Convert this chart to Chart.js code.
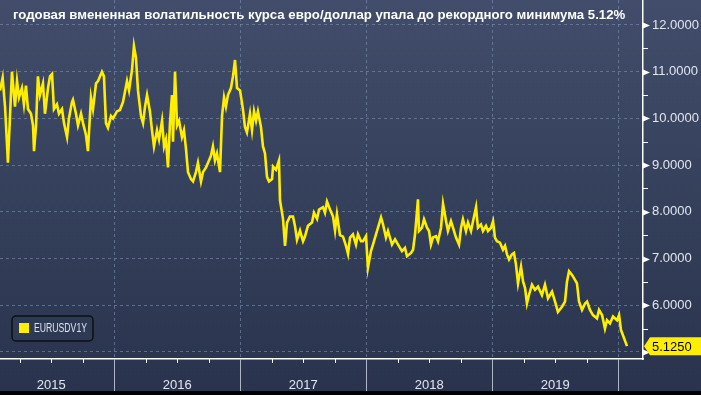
<!DOCTYPE html>
<html>
<head>
<meta charset="utf-8">
<script src="https://cdn.jsdelivr.net/npm/chart.js@4.4.1/dist/chart.umd.min.js"></script>
<style>
  html, body { margin: 0; padding: 0; background: #2a344e; }
  #wrap { width: 701px; height: 395px; }
</style>
</head>
<body>
<div id="wrap"><canvas id="myChart" width="701" height="395"></canvas></div>
<script>
// title + series name
var titleText = 'годовая вмененная волатильность курса евро/доллар упала до рекордного минимума 5.12%';
var seriesName = 'EURUSDV1Y';

// x = decimal year
var dates = [
    2015.093, 2015.114, 2015.133, 2015.156, 2015.188, 2015.212, 2015.228, 2015.244, 2015.267, 2015.283,
    2015.299, 2015.315, 2015.339, 2015.355, 2015.363, 2015.379, 2015.394, 2015.410, 2015.434, 2015.450,
    2015.474, 2015.490, 2015.506, 2015.521, 2015.545, 2015.561, 2015.585, 2015.601, 2015.625, 2015.640,
    2015.664, 2015.672, 2015.696, 2015.712, 2015.736, 2015.752, 2015.775, 2015.791, 2015.815, 2015.831,
    2015.855, 2015.871, 2015.902, 2015.918, 2015.934, 2015.950, 2015.974, 2015.990, 2016.021, 2016.045,
    2016.069, 2016.101, 2016.117, 2016.141, 2016.156, 2016.172, 2016.188, 2016.212, 2016.228, 2016.244,
    2016.260, 2016.283, 2016.299, 2016.315, 2016.339, 2016.355, 2016.379, 2016.395, 2016.410, 2016.426,
    2016.442, 2016.458, 2016.466, 2016.482, 2016.498, 2016.514, 2016.537, 2016.553, 2016.569, 2016.585,
    2016.609, 2016.625, 2016.648, 2016.664, 2016.688, 2016.704, 2016.728, 2016.744, 2016.767, 2016.783,
    2016.799, 2016.815, 2016.839, 2016.855, 2016.871, 2016.886, 2016.902, 2016.926, 2016.942, 2016.958,
    2016.974, 2016.998, 2017.021, 2017.037, 2017.053, 2017.077, 2017.093, 2017.109, 2017.125, 2017.140,
    2017.164, 2017.180, 2017.196, 2017.212, 2017.228, 2017.252, 2017.260, 2017.283, 2017.307, 2017.315,
    2017.339, 2017.355, 2017.371, 2017.394, 2017.418, 2017.434, 2017.450, 2017.474, 2017.498, 2017.513,
    2017.537, 2017.569, 2017.585, 2017.609, 2017.625, 2017.656, 2017.672, 2017.688, 2017.712, 2017.736,
    2017.752, 2017.767, 2017.791, 2017.815, 2017.839, 2017.855, 2017.871, 2017.894, 2017.918, 2017.934,
    2017.958, 2017.974, 2017.998, 2018.013, 2018.037, 2018.053, 2018.077, 2018.093, 2018.117, 2018.133,
    2018.156, 2018.172, 2018.204, 2018.228, 2018.252, 2018.283, 2018.307, 2018.323, 2018.355, 2018.371,
    2018.387, 2018.410, 2018.418, 2018.442, 2018.458, 2018.482, 2018.498, 2018.513, 2018.529, 2018.553,
    2018.569, 2018.593, 2018.609, 2018.633, 2018.648, 2018.672, 2018.688, 2018.712, 2018.736, 2018.752,
    2018.767, 2018.791, 2018.807, 2018.831, 2018.847, 2018.871, 2018.886, 2018.910, 2018.926, 2018.950,
    2018.966, 2018.990, 2019.006, 2019.021, 2019.037, 2019.061, 2019.085, 2019.101, 2019.117, 2019.133,
    2019.156, 2019.172, 2019.188, 2019.204, 2019.228, 2019.244, 2019.260, 2019.275, 2019.291, 2019.315,
    2019.339, 2019.363, 2019.394, 2019.418, 2019.442, 2019.474, 2019.498, 2019.521, 2019.553, 2019.577,
    2019.593, 2019.609, 2019.633, 2019.648, 2019.672, 2019.688, 2019.712, 2019.736, 2019.752, 2019.775,
    2019.799, 2019.831, 2019.847, 2019.871, 2019.894, 2019.910, 2019.934, 2019.958, 2019.990, 2020.006,
    2020.021, 2020.037, 2020.069
];

// EURUSD 1y implied vol
var vol = [
    10.60, 10.87, 10.25, 9.05, 11.00, 10.25, 10.80, 10.45, 10.65, 10.30,
    10.70, 10.20, 10.10, 9.85, 9.30, 9.85, 10.90, 10.50, 10.75, 10.10,
    10.65, 10.90, 10.95, 10.20, 10.30, 10.10, 10.20, 9.90, 9.60, 10.00,
    10.35, 10.40, 10.10, 9.85, 10.10, 9.90, 9.65, 9.30, 10.45, 10.20,
    10.75, 10.80, 11.00, 10.90, 9.90, 9.80, 10.05, 10.00, 10.15, 10.18,
    10.35, 10.80, 10.60, 11.05, 11.55, 11.30, 10.60, 10.05, 9.90, 10.25,
    10.50, 10.15, 9.75, 9.40, 9.75, 9.55, 9.95, 9.40, 9.55, 8.95,
    9.90, 10.50, 9.50, 11.00, 9.85, 9.95, 9.60, 9.75, 9.35, 8.85,
    8.70, 8.65, 8.85, 9.05, 8.65, 8.85, 8.95, 9.05, 9.20, 9.40,
    9.10, 9.25, 8.85, 10.05, 10.45, 10.25, 10.50, 10.65, 10.90, 11.25,
    10.65, 10.60, 10.20, 9.82, 9.70, 10.10, 9.75, 10.15, 9.95, 10.15,
    9.82, 9.40, 9.25, 8.75, 8.65, 8.70, 8.97, 8.90, 9.10, 8.25,
    7.85, 7.27, 7.77, 7.90, 7.90, 7.70, 7.40, 7.60, 7.37, 7.47,
    7.70, 7.77, 7.98, 7.85, 8.05, 8.10, 7.98, 8.22, 8.05, 7.90,
    7.60, 7.95, 7.50, 7.47, 7.27, 7.10, 7.45, 7.52, 7.30, 7.52,
    7.37, 7.37, 7.48, 6.80, 7.16, 7.30, 7.52, 7.66, 7.88, 7.73,
    7.45, 7.59, 7.30, 7.41, 7.30, 7.16, 7.23, 7.05, 7.12, 7.19,
    7.52, 8.27, 7.59, 7.66, 7.84, 7.66, 7.59, 7.30, 7.45, 7.48,
    7.37, 7.66, 8.17, 7.80, 7.59, 7.80, 7.66, 7.45, 7.30, 7.66,
    7.84, 7.59, 7.77, 7.59, 7.80, 8.10, 7.66, 7.73, 7.59, 7.70,
    7.59, 7.66, 7.80, 7.45, 7.37, 7.34, 7.19, 7.27, 7.09, 6.98,
    7.09, 7.12, 6.87, 6.47, 6.83, 6.51, 6.37, 6.04, 6.22, 6.44,
    6.33, 6.40, 6.22, 6.44, 6.15, 6.29, 6.08, 5.86, 5.97, 6.08,
    6.51, 6.73, 6.65, 6.58, 6.47, 6.08, 5.90, 6.04, 6.08, 5.90,
    5.79, 5.72, 5.90, 5.79, 5.50, 5.68, 5.61, 5.76, 5.68, 5.79,
    5.47, 5.36, 5.125
];

// axes
var years = [2015, 2016, 2017, 2018, 2019];
var yTicks = [5, 5.5, 6, 6.5, 7, 7.5, 8, 8.5, 9, 9.5, 10, 10.5, 11, 11.5, 12];
var xMin = 2015.093, xMax = 2020.196;
var yMin = 4.85, yMax = 12.535;

var FONT = "'Liberation Sans', Arial, sans-serif";
var GRID = 'rgba(125,145,178,0.6)';
var YELLOW = '#ffee00';

// background gradient
var bgPlugin = {
    id: 'bg',
    beforeDraw: function (chart) {
        var c = chart.ctx;
        var g = c.createLinearGradient(0, 0, 0, chart.height);
        g.addColorStop(0, '#414d6a');
        g.addColorStop(1, '#29334d');
        c.save();
        c.fillStyle = g;
        c.fillRect(0, 0, chart.width, chart.height);
        c.restore();
    }
};

// ticks, title, legend box and last value tag
var decoPlugin = {
    id: 'deco',
    afterDraw: function (chart) {
        var c = chart.ctx;
        var area = chart.chartArea;
        var xs = chart.scales.x, ys = chart.scales.y;
        c.save();

        // y tick marks: arrows on whole numbers, short lines on halves
        c.fillStyle = '#ffffff';
        c.strokeStyle = '#ffffff';
        c.lineWidth = 1;
        yTicks.forEach(function (v) {
            var py = Math.round(ys.getPixelForValue(v)) + 0.5;
            if (v % 1 === 0) {
                c.beginPath();
                c.moveTo(area.right, py - 3);
                c.lineTo(area.right + 7, py);
                c.lineTo(area.right, py + 3);
                c.closePath();
                c.fill();
            } else {
                c.beginPath();
                c.moveTo(area.right, py);
                c.lineTo(area.right + 5, py);
                c.stroke();
            }
        });

        // x tick marks: quarters short, year bounds long grey
        xs.ticks.forEach(function (t) {
            var px = Math.round(xs.getPixelForValue(t.value)) + 0.5;
            c.beginPath();
            if (t.value % 1 === 0) {
                c.strokeStyle = '#aeb6c6';
                c.moveTo(px, area.bottom);
                c.lineTo(px, chart.height - 4);
            } else {
                c.strokeStyle = '#ffffff';
                c.moveTo(px, area.bottom);
                c.lineTo(px, area.bottom + 4);
            }
            c.stroke();
        });

        // black strip at the very bottom
        c.fillStyle = '#000000';
        c.fillRect(0, chart.height - 4, chart.width, 4);

        // title, sized to span like the original
        var fs = 13;
        c.font = 'bold ' + fs + 'px ' + FONT;
        fs = fs * 613 / c.measureText(titleText).width;
        c.font = 'bold ' + fs.toFixed(2) + 'px ' + FONT;
        c.fillStyle = '#ffffff';
        c.textBaseline = 'middle';
        c.textAlign = 'left';
        c.fillText(titleText, 13, 15);

        // legend box
        c.beginPath();
        c.roundRect(12, 316, 81, 25, 4);
        c.fillStyle = '#2e3953';
        c.fill();
        c.strokeStyle = '#0c0e14';
        c.lineWidth = 1.5;
        c.stroke();
        c.fillStyle = YELLOW;
        c.fillRect(19, 323, 10, 10);
        // narrow text: squeeze horizontally to the original width
        c.fillStyle = '#dde3ee';
        c.font = '12px ' + FONT;
        var sx = 53 / c.measureText(seriesName).width;
        c.save();
        c.translate(34, 329);
        c.scale(sx, 1);
        c.fillText(seriesName, 0, 0);
        c.restore();

        // last value tag
        var last = vol[vol.length - 1];
        var ty = ys.getPixelForValue(last);
        c.beginPath();
        c.moveTo(area.right + 1, ty);
        c.lineTo(area.right + 7, ty - 9);
        c.lineTo(chart.width, ty - 9);
        c.lineTo(chart.width, ty + 9);
        c.lineTo(area.right + 7, ty + 9);
        c.closePath();
        c.fillStyle = YELLOW;
        c.fill();
        c.fillStyle = '#000000';
        c.font = '13px ' + FONT;
        c.fillText(last.toFixed(4), area.right + 9, ty + 1);

        c.restore();
    }
};

var ctx = document.getElementById('myChart');

var chart = new Chart(ctx, {
    type: 'line',
    data: {
        datasets: [{
            label: seriesName,
            data: dates.map(function (d, i) { return { x: d, y: vol[i] }; }),
            borderColor: YELLOW,
            borderWidth: 2.6,
            pointRadius: 0,
            tension: 0,
            fill: false
        }]
    },
    options: {
        responsive: false,
        animation: false,
        layout: { padding: 0 },
        plugins: {
            legend: { display: false },
            title: { display: false },
            tooltip: { enabled: false }
        },
        scales: {
            x: {
                type: 'linear',
                min: xMin,
                max: xMax,
                afterBuildTicks: function (scale) {
                    var t = [];
                    years.concat([2020]).forEach(function (y) {
                        [0, 0.25, 0.5, 0.75].forEach(function (q) {
                            if (y + q > xMin && y + q < xMax) t.push({ value: y + q });
                        });
                    });
                    scale.ticks = t;
                },
                afterFit: function (scale) {
                    scale.height = 36;
                    scale.paddingLeft = 0;
                    scale.paddingRight = 0;
                },
                grid: {
                    drawTicks: false,
                    color: function (c) {
                        return c.tick && c.tick.value % 1 === 0 ? GRID : 'transparent';
                    },
                    lineWidth: 1
                },
                border: { display: true, color: '#ffffff', width: 1.5, dash: [3, 3] },
                ticks: {
                    autoSkip: false,
                    maxRotation: 0,
                    padding: 19,
                    color: '#e2e6ee',
                    font: { family: FONT, size: 13 },
                    callback: function (v) {
                        var i = years.indexOf(Math.round(v - 0.5));
                        return (v % 1 === 0.5 && i >= 0) ? String(years[i]) : '';
                    }
                }
            },
            y: {
                position: 'right',
                min: yMin,
                max: yMax,
                afterBuildTicks: function (scale) {
                    scale.ticks = yTicks.map(function (v) { return { value: v }; });
                },
                afterFit: function (scale) {
                    scale.width = 58;
                    scale.paddingTop = 0;
                    scale.paddingBottom = 0;
                },
                grid: {
                    drawTicks: false,
                    color: function (c) {
                        return c.tick && c.tick.value % 1 === 0 ? GRID : 'transparent';
                    },
                    lineWidth: 1
                },
                border: { display: true, color: '#ffffff', width: 1.5, dash: [3, 3] },
                ticks: {
                    autoSkip: false,
                    padding: 9,
                    color: '#e2e6ee',
                    font: { family: FONT, size: 13 },
                    callback: function (v) {
                        return (v % 1 === 0 && v > 5) ? v.toFixed(4) : '';
                    }
                }
            }
        }
    },
    plugins: [bgPlugin, decoPlugin]
});
</script>
</body>
</html>
